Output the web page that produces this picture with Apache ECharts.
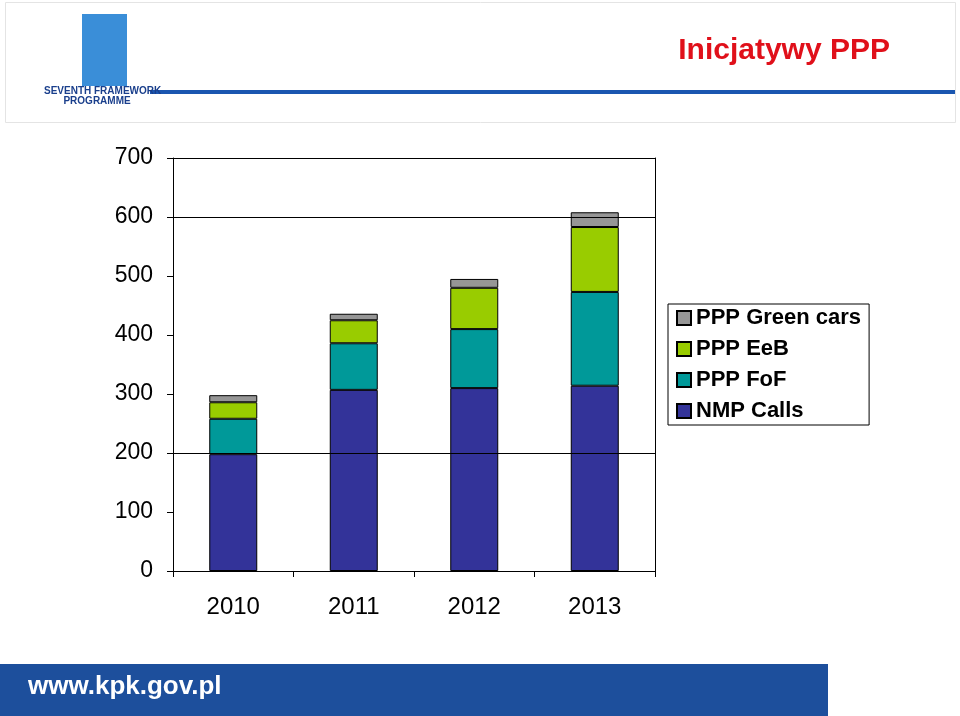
<!DOCTYPE html>
<html><head><meta charset="utf-8">
<script src="https://cdn.jsdelivr.net/npm/echarts@6/dist/echarts.min.js"></script>
<style>html,body{margin:0;background:#fff}#c{width:960px;height:716px}</style>
</head><body><div id="c"></div>
<script>
// dane
const years = ["2010", "2011", "2012", "2013"];
const nmpCalls = [198, 307, 310, 314];
const pppFoF = [60, 79, 100, 159];
const pppEeB = [28, 39, 70, 110];
const pppGreenCars = [12, 11, 15, 25];
const yTicks = [0, 100, 200, 300, 400, 500, 600, 700];

const chart = echarts.init(document.getElementById("c"));
const font = "Liberation Sans, Arial, sans-serif";

function bar(name, data, color, extra) {
   return Object.assign({
      name: name, type: "bar", stack: "a", barWidth: 48, data: data,
      itemStyle: { color: color, borderColor: "#000", borderWidth: 1 },
   }, extra || {});
}

chart.setOption({
   animation: false,
   backgroundColor: "#fff",
   graphic: [
      // nagłówek
      { type: "rect", left: 5, top: 2, shape: { width: 950, height: 120 }, style: { fill: "#fff", stroke: "#e4e4e4" } },
      { type: "text", right: 70, top: 36, style: { text: "Inicjatywy PPP", fill: "#e0101a", font: "bold 30px " + font } },
      { type: "rect", left: 150, top: 90, shape: { width: 805, height: 4 }, style: { fill: "#1a56b0" } },
      { type: "rect", left: 82, top: 14, shape: { width: 45, height: 72 }, style: { fill: "#3a8ed8" } },
      { type: "text", left: 44, top: 86, style: { text: "SEVENTH FRAMEWORK\n       PROGRAMME", fill: "#1a3f8c", font: "bold 10px " + font } },
      // stopka
      { type: "rect", left: 0, top: 664, shape: { width: 960, height: 52 }, style: { fill: "#1d4f9c" } },
      { type: "text", left: 28, top: 674, style: { text: "www.kpk.gov.pl", fill: "#fff", font: "bold 26px " + font } },
      { type: "rect", left: 828, top: 640, shape: { width: 132, height: 76 }, style: { fill: "#fff" } },
   ],
   legend: {
      orient: "vertical", left: 668, top: 304, itemWidth: 14, itemHeight: 14, itemGap: 9,
      icon: "rect",
      padding: [3, 8, 3, 8], borderColor: "#000", borderWidth: 1, backgroundColor: "#fff",
      textStyle: { fontFamily: font, fontSize: 22, fontWeight: "bold", color: "#000" },
      data: ["PPP Green cars", "PPP EeB", "PPP FoF", "NMP Calls"],
   },
   grid: { left: 173, right: 305, top: 158, bottom: 145 },
   xAxis: {
      type: "category", data: years,
      axisLine: { lineStyle: { color: "#000" } },
      axisTick: { show: true, length: 6, lineStyle: { color: "#000" } },
      axisLabel: { color: "#000", fontSize: 24, fontFamily: font, margin: 24 },
   },
   yAxis: [{
      type: "value", min: 0, max: 700, interval: 100,
      axisLine: { show: true, lineStyle: { color: "#000" } },
      axisTick: { show: true, length: 6, lineStyle: { color: "#000" } },
      axisLabel: { color: "#000", fontSize: 23, fontFamily: font, margin: 20,
         formatter: v => yTicks.includes(v) ? String(v) : "" },
      splitLine: { show: false },
   }, {
      type: "value", min: 0, max: 700, interval: 100, position: "right",
      axisLine: { show: true, lineStyle: { color: "#000" } },
      axisTick: { show: false }, axisLabel: { show: false }, splitLine: { show: false },
   }],
   series: [
      bar("NMP Calls", nmpCalls, "#333399", {
         markLine: { silent: true, symbol: "none", label: { show: false },
            lineStyle: { color: "#000", type: "solid", width: 1 },
            data: [{ yAxis: 700 }, { yAxis: 600 }, { yAxis: 200 }] },
      }),
      bar("PPP FoF", pppFoF, "#009999"),
      bar("PPP EeB", pppEeB, "#99cc00"),
      bar("PPP Green cars", pppGreenCars, "#969696"),
   ],
});
</script></body></html>
